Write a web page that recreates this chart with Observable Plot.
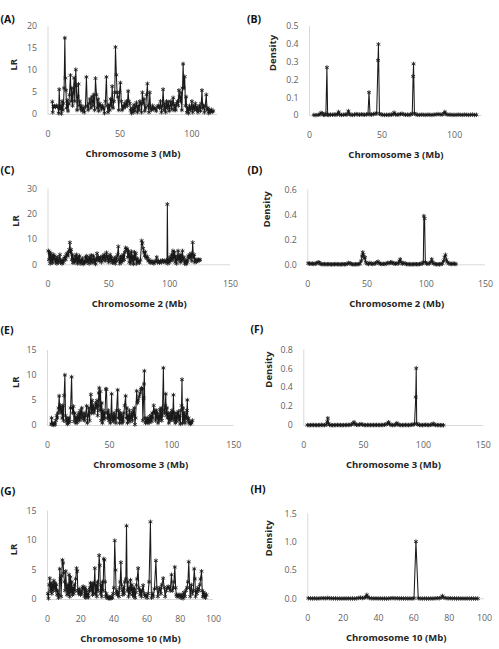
<!DOCTYPE html>
<html>
<head>
<meta charset="utf-8">
<script src="https://cdn.jsdelivr.net/npm/d3@7"></script>
<script src="https://cdn.jsdelivr.net/npm/@observablehq/plot@0.6"></script>
<style>
  body { margin: 0; background: #fff; }
  #fig { position: relative; width: 499px; height: 649px; overflow: hidden; background: #fff; }
  #fig > svg, #fig > figure { position: absolute; margin: 0; }
</style>
</head>
<body>
<div id="fig"></div>
<script>
// Each series: [position (Mb), value]

// (A) likelihood ratio along chromosome 3
const lrChr3A = [
[3,2.9],[3.3,0.5],[3.8,1.8],[4.5,1.9],[5.2,1.7],[6,2],[6.8,1.8],[7.4,0.3],[7.8,5.7],[8.3,1.2],[8.8,2],[9.3,0.2],[9.8,3],[10.3,1],[10.8,2.5],[11.2,6],[11.7,17.4],[12.1,8.3],[12.5,5.5],[12.9,1.5],[13.4,3.2],[13.9,0.8],[14.4,2.4],[14.9,4.5],[15.6,8.9],[16.1,3],[16.6,6],[17.1,2],[17.6,5],[18.2,8.3],[18.6,3],[19.3,10.2],[19.7,6.5],[20.2,1],[20.7,4],[21.2,6.9],[21.6,2],[22.1,3],[22.6,1.2],[23.2,2],[23.8,0.8],[24.5,1.5],[25.2,0.5],[26,1.8],[26.7,8.5],[27.3,2],[27.9,1],[28.5,2.5],[29.2,3.5],[29.8,1.5],[30.5,4],[31.2,2],[31.8,4.5],[32.4,1],[33,8.2],[33.7,4.5],[34.2,1.5],[34.8,3.5],[35.3,0.8],[35.9,2.5],[36.5,2],[37.2,1.2],[37.8,2],[38.5,1.5],[39.2,0.3],[39.9,3],[40.6,8.5],[41.1,2],[41.7,0.5],[42.3,2.2],[42.9,1],[43.5,3.5],[44.1,2],[44.6,6.4],[45.2,1.5],[45.8,3],[46.4,5],[46.9,15.3],[47.5,9],[48,5],[48.6,4],[49.2,1],[49.7,5],[50.3,7.2],[50.9,3],[51.5,1],[52.1,2],[52.7,1.5],[53.3,2.5],[53.9,1.8],[54.5,3],[55.1,2],[55.7,5.3],[56.2,3],[56.8,2.5],[57.4,1],[58,0.3],[58.6,1.5],[59.2,0.5],[59.8,2.2],[60.4,0.8],[61,1.8],[61.5,2.7],[62.1,0.5],[62.7,2],[63.3,1],[63.9,3],[64.5,2.5],[65,0.5],[65.6,5],[66.2,2.5],[66.7,3.5],[67.3,0.8],[67.9,1.5],[68.5,4.5],[69.1,7],[69.6,2],[70.2,0.5],[70.7,5],[71.3,1.5],[72,1],[72.7,2],[73.5,1.2],[74.3,1.5],[75.2,0.8],[76,1.8],[76.8,2],[77.5,1.5],[78.2,3],[78.8,0.5],[79.4,2],[80,5.7],[80.6,1],[81.2,2.5],[81.8,0.5],[82.4,3],[83,1.5],[83.6,2.8],[84.2,0.8],[84.8,2],[85.4,3],[86,1.2],[86.5,2.5],[87,3.8],[87.6,1],[88.2,2.2],[88.8,1],[89.4,2.5],[90,3],[90.5,2],[91,5.5],[91.5,4],[92,3],[92.5,5],[93,1],[93.5,6],[93.9,11.5],[94.4,6],[95,8.6],[95.5,2],[96,4],[96.5,0.5],[97.1,1.5],[97.7,0.3],[98.3,2],[98.9,1],[99.5,1.5],[100,3],[100.6,0.5],[101.2,2],[101.8,1.2],[102.4,2.5],[103,1],[103.6,1.8],[104.2,0.5],[104.8,1.2],[105.4,2],[106,0.8],[106.5,2.5],[107,5.5],[107.5,1.5],[108.1,2],[108.7,0.5],[109.3,2],[110,4.5],[110.5,1],[111.1,1.5],[111.7,0.3],[112.3,1],[112.9,0.6],[113.5,1.1],[114.1,0.6],[114.8,0.8]
];

// (B) posterior density along chromosome 3
const densChr3B = [
[3,0.003],[4.5,0.002],[6,0.004],[7.2,0.006],[8,0.015],[8.8,0.012],[9.6,0.004],[10.5,0.003],[11.3,0.01],[12,0.27],[12.5,0.004],[13.3,0.003],[14.5,0.005],[15.8,0.004],[17,0.006],[18.2,0.004],[19.3,0.008],[20.1,0.02],[20.8,0.005],[22,0.003],[23.3,0.004],[24.6,0.006],[25.8,0.005],[26.8,0.025],[27.5,0.008],[28.6,0.004],[29.8,0.003],[31,0.005],[32.2,0.008],[33.3,0.006],[34.5,0.004],[35.7,0.007],[36.9,0.005],[38,0.004],[39.2,0.006],[40.3,0.008],[41,0.13],[41.7,0.006],[42.8,0.005],[44,0.008],[45.2,0.01],[46.3,0.012],[47.2,0.31],[47.5,0.4],[48.2,0.01],[49.3,0.006],[50.5,0.004],[51.8,0.003],[53,0.004],[54.2,0.003],[55.4,0.005],[56.6,0.004],[57.7,0.008],[58.3,0.016],[59.2,0.006],[60.4,0.004],[61.6,0.006],[62.8,0.008],[63.8,0.01],[65,0.006],[66.2,0.004],[67.4,0.005],[68.6,0.003],[69.8,0.006],[70.8,0.01],[71.4,0.22],[71.7,0.29],[72.3,0.012],[73.4,0.006],[74.6,0.004],[76,0.003],[77.4,0.005],[78.8,0.004],[80.2,0.003],[81.6,0.005],[83,0.004],[84.4,0.003],[85.8,0.005],[87.2,0.006],[88.6,0.008],[90,0.006],[91.4,0.005],[92.6,0.012],[93.3,0.02],[94,0.008],[95.4,0.004],[96.8,0.005],[98.2,0.003],[99.6,0.004],[101,0.003],[102.4,0.005],[103.8,0.004],[105.2,0.003],[106.6,0.005],[108,0.004],[109.4,0.003],[110.8,0.004],[112.2,0.005],[113.6,0.003],[115,0.004]
];

// (C) likelihood ratio along chromosome 2
const lrChr2C = [
[0.3,5.5],[0.8,2],[1.3,5],[1.8,0.5],[2.3,4.5],[2.8,1.5],[3.3,3.5],[3.8,0.8],[4.4,4],[5,2],[5.6,3.5],[6.2,1],[6.8,2.5],[7.4,0.5],[8,3],[8.6,1.2],[9.2,2],[9.8,4],[10.4,0.8],[11,1.5],[11.6,0.5],[12.2,2],[12.8,1],[13.4,2.5],[14,3.2],[14.6,2],[15.2,4],[15.8,4.5],[16.4,3.5],[17,5],[17.5,6],[18,8.8],[18.5,5],[19,6],[19.5,2],[20,4],[20.5,0.8],[21.1,2.5],[21.7,1],[22.3,3.5],[22.9,1.5],[23.5,4],[24.1,0.5],[24.7,3],[25.3,1.2],[25.9,3.5],[26.5,0.5],[27.1,2],[27.7,1],[28.3,2.5],[28.9,0.3],[29.5,1.5],[30.1,0.8],[30.7,3],[31.3,1],[31.9,3.5],[32.5,1.5],[33.1,2.5],[33.7,0.5],[34.3,3],[34.9,1.5],[35.5,3.8],[36.1,0.8],[36.7,2],[37.3,3.5],[37.9,1],[38.5,2.5],[39.1,0.3],[39.7,2],[40.3,4.5],[40.9,2],[41.5,3],[42.1,1.5],[42.7,2.5],[43.3,3],[43.9,1],[44.5,2],[45.1,3.5],[45.7,2.5],[46.3,4],[46.9,1.5],[47.5,3],[48.1,4.8],[48.7,2],[49.3,3.5],[49.9,1],[50.5,2.5],[51.1,4],[51.7,1.5],[52.3,3],[52.9,0.8],[53.5,2],[54.1,1],[54.7,2.5],[55.3,0.5],[55.9,3],[56.5,1.5],[57.1,4],[57.8,7.2],[58.4,2],[59,0.5],[59.6,3],[60.2,1],[60.8,3.5],[61.4,1.5],[62,4],[62.6,2],[63.2,5],[63.8,6.7],[64.4,6],[65,6.3],[65.6,3],[66.2,5.5],[66.8,1],[67.4,4.5],[68,0.5],[68.6,5.2],[69.2,1.5],[69.8,3.5],[70.4,0.3],[71,5],[71.6,2],[72.2,4.5],[72.8,0.5],[73.4,2.5],[74,1],[74.6,1.5],[75.2,0.8],[76,2],[77,9.5],[77.6,8.5],[78.2,6.5],[78.8,5],[79.4,3.5],[80,5],[80.6,3],[81.2,2.5],[81.8,3.2],[82.4,1.5],[83,2],[83.8,1],[84.6,0.8],[85.4,1.5],[86.2,1],[87,0.5],[87.8,1.2],[88.6,1.5],[89.4,3],[90,1],[90.8,1.5],[91.6,0.8],[92.4,1.5],[93.2,1],[94,1.8],[94.8,1.2],[95.6,1.5],[96.4,1],[97.2,1.8],[97.8,1.2],[98.1,23.9],[98.5,0.5],[99.1,2],[99.7,1],[100.3,3],[100.9,1.5],[101.5,4],[102.1,2],[102.7,5.5],[103.3,2.5],[103.9,5],[104.5,1],[105.1,3.5],[105.7,0.5],[106.3,2.5],[106.9,5.5],[107.5,2],[108.1,3.5],[108.7,1],[109.3,4],[109.9,1.5],[110.5,5.5],[111.1,2],[111.7,3],[112.3,0.5],[112.9,1.5],[113.5,0.3],[114.1,2],[114.7,1],[115.3,3.5],[115.9,2.5],[116.5,4],[117.1,3],[117.7,4.5],[118.3,1.5],[118.9,8.8],[119.5,3],[120.1,4],[120.7,1],[121.3,2],[121.9,1.2],[122.5,2],[123.1,1.5],[123.7,2],[124.3,1.8],[125,2]
];

// (D) posterior density along chromosome 2
const densChr2D = [
[0.3,0.012],[1.5,0.01],[2.7,0.008],[3.9,0.01],[5.1,0.006],[6.3,0.01],[7.5,0.012],[8.7,0.02],[9.6,0.018],[10.5,0.008],[11.7,0.006],[12.9,0.004],[14.1,0.006],[15.3,0.004],[16.5,0.005],[17.7,0.006],[18.9,0.004],[20.1,0.003],[21.3,0.005],[22.5,0.004],[23.7,0.006],[24.9,0.004],[26.1,0.005],[27.3,0.003],[28.5,0.004],[29.7,0.006],[30.9,0.004],[32.1,0.005],[33.3,0.008],[34.5,0.015],[35.6,0.012],[36.7,0.006],[37.9,0.004],[39.1,0.003],[40.3,0.005],[41.5,0.004],[42.7,0.006],[43.9,0.008],[45,0.03],[45.8,0.07],[46.4,0.1],[47,0.08],[47.6,0.05],[48.3,0.06],[49,0.02],[50,0.01],[51.2,0.006],[52.4,0.015],[53.6,0.008],[54.8,0.006],[56,0.01],[57.2,0.012],[58.4,0.02],[59.3,0.025],[60.2,0.012],[61.4,0.008],[62.6,0.006],[63.8,0.008],[65,0.006],[66.2,0.01],[67.4,0.015],[68.6,0.012],[69.8,0.02],[70.8,0.018],[71.8,0.015],[72.8,0.01],[74,0.008],[75.2,0.012],[76.4,0.01],[77.4,0.03],[78,0.045],[78.7,0.02],[79.8,0.008],[81,0.015],[82.2,0.01],[83.4,0.006],[84.6,0.004],[85.8,0.006],[87,0.003],[88.2,0.005],[89.4,0.004],[90.6,0.006],[91.8,0.005],[93,0.004],[94.2,0.006],[95.4,0.008],[96.6,0.01],[97.5,0.02],[98,0.39],[98.6,0.37],[99.2,0.02],[100.2,0.01],[101.4,0.008],[102.6,0.012],[103.8,0.02],[104.6,0.045],[105.4,0.02],[106.4,0.01],[107.6,0.006],[108.8,0.004],[110,0.005],[111.2,0.004],[112.4,0.006],[113.6,0.01],[114.6,0.03],[115.4,0.06],[116.2,0.08],[117,0.04],[117.8,0.02],[119,0.012],[120.2,0.008],[121.4,0.006],[122.6,0.01],[123.8,0.008],[125,0.006]
];

// (E) likelihood ratio along chromosome 3
const lrChr3E = [
[3,0.3],[3.3,1.5],[3.8,0.2],[4.4,0.5],[5,0.1],[5.6,0.4],[6.2,0.2],[6.8,1],[7.4,2],[7.9,1.5],[8.4,2.5],[8.9,3.5],[9.4,5.9],[9.9,3],[10.4,4],[10.9,2.5],[11.4,3.5],[11.9,1.5],[12.4,4],[12.9,1],[13.4,6],[14,10.1],[14.5,2],[15,0.8],[15.5,1.5],[16,0.3],[16.5,1.2],[17,0.5],[17.5,1.5],[18,0.8],[18.6,3.5],[19.4,9.7],[19.9,3.5],[20.4,2.5],[20.9,3.8],[21.4,0.8],[21.9,2.5],[22.4,1.5],[22.9,0.5],[23.4,1.5],[23.9,0.6],[24.4,2],[24.9,1.2],[25.4,2.5],[25.9,1],[26.4,3],[27,1.5],[27.6,3.5],[28.2,2],[28.8,1.2],[29.4,2.5],[30,1],[30.6,2],[31.5,3.9],[32.1,0.5],[32.7,2],[33.3,3.5],[33.9,1],[34.9,6.2],[35.4,2.5],[35.9,5],[36.4,3],[36.9,4],[37.4,2.5],[37.9,3],[38.4,3.5],[38.9,4.5],[39.4,3.8],[39.9,5],[40.4,2],[40.9,4],[41.3,6.5],[41.7,7.5],[42.2,3],[42.7,6.8],[43.2,1],[43.7,4.5],[44.2,0.5],[44.7,3],[45.2,1.2],[45.7,2.5],[46.2,1.5],[47,7.3],[47.5,7.2],[48,2.5],[48.5,1.5],[49,3],[49.5,1],[50,2.2],[50.5,0.5],[51,1.5],[51.6,6.3],[52.1,1],[52.6,2],[53.1,0.8],[53.6,2.5],[54.1,1.2],[54.6,2],[55.1,0.5],[55.6,3],[56.5,7.1],[57,1.5],[57.5,3],[58,0.5],[58.5,2.5],[59,1],[59.5,2.2],[60,0.5],[60.5,1.8],[61,0.8],[61.5,2.5],[62.1,4],[62.9,5.9],[63.4,1.5],[63.9,3.5],[64.4,0.5],[64.9,2],[65.4,1],[65.9,3],[66.4,0.8],[66.9,2],[67.4,1.5],[67.9,2.5],[68.4,1],[68.9,3],[69.4,2],[69.9,3.5],[70.4,0.2],[70.9,1.5],[71.8,6.9],[72.4,4.5],[73,5],[73.8,5.8],[74.6,6.5],[75.3,7.2],[75.8,7.5],[76.3,7.3],[76.8,1],[77.4,5.5],[77.7,8.3],[78,10.9],[78.4,1.5],[78.9,0.5],[79.4,1],[79.9,0.8],[80.4,1.5],[80.9,0.5],[81.4,1.2],[81.9,0.6],[82.4,1.8],[82.9,1],[83.4,2],[83.9,0.8],[84.4,2.5],[84.9,1.5],[85.5,4],[86,2.5],[86.5,3],[87,1],[87.5,3],[88,1.5],[88.5,2.5],[89,0.5],[89.5,2],[90,1],[90.5,3.2],[91,1.5],[91.5,3.5],[92,1],[92.5,2],[93.3,11.5],[93.8,3],[94.3,2.5],[94.8,4],[95.2,6.3],[95.7,2],[96.2,3.5],[96.7,1.5],[97.2,2.5],[97.7,0.5],[98.2,2],[98.7,1],[99.2,2.5],[99.7,1.2],[100.2,3],[100.8,1.5],[101.4,6.1],[101.9,1],[102.4,2.5],[102.9,0.5],[103.4,2],[103.9,0.8],[104.4,2.5],[104.9,1.5],[105.4,2.8],[105.9,1],[106.4,2],[106.9,0.3],[107.4,3],[107.9,4],[108.3,9.2],[108.7,0.5],[109.2,3.5],[109.7,1],[110.2,2.5],[110.7,0.5],[111.2,2],[111.7,1.5],[112.2,3],[112.6,5.1],[113,1],[113.5,1.5],[114,0.5],[114.5,0.8],[115,0.3],[115.5,0.7],[116,0.5],[116.7,1]
];

// (F) posterior density along chromosome 3
const densChr3F = [
[3,0.005],[4.3,0.003],[5.6,0.004],[6.9,0.006],[8.2,0.004],[9.5,0.005],[10.8,0.003],[12.1,0.005],[13.4,0.004],[14.7,0.006],[16,0.005],[17.3,0.004],[18.6,0.008],[19.6,0.04],[20.1,0.077],[20.6,0.02],[21.6,0.006],[22.9,0.004],[24.2,0.003],[25.5,0.005],[26.8,0.004],[28.1,0.006],[29.4,0.004],[30.7,0.005],[32,0.003],[33.3,0.005],[34.6,0.004],[35.9,0.006],[37.2,0.005],[38.5,0.007],[39.8,0.01],[41,0.02],[42,0.035],[42.8,0.015],[44,0.008],[45.3,0.006],[46.6,0.01],[47.9,0.015],[49.2,0.008],[50.5,0.005],[51.8,0.004],[53.1,0.006],[54.4,0.005],[55.7,0.004],[57,0.006],[58.3,0.005],[59.6,0.004],[60.9,0.006],[62.2,0.005],[63.5,0.004],[64.8,0.006],[66.1,0.005],[67.4,0.008],[68.7,0.012],[70,0.02],[70.9,0.035],[71.8,0.015],[73,0.006],[74.3,0.004],[75.6,0.005],[76.8,0.01],[77.8,0.025],[78.6,0.012],[79.8,0.006],[81.1,0.004],[82.4,0.005],[83.7,0.004],[85,0.006],[86.3,0.005],[87.6,0.004],[88.9,0.006],[90.2,0.008],[91.4,0.01],[92.6,0.015],[93.6,0.3],[94,0.605],[94.4,0.02],[95.4,0.01],[96.7,0.006],[98,0.005],[99.3,0.004],[100.6,0.006],[101.9,0.008],[103.2,0.005],[104.5,0.004],[105.8,0.006],[107.1,0.01],[108.2,0.02],[109,0.01],[110.3,0.005],[111.6,0.004],[112.9,0.005],[114.2,0.003],[115.5,0.004],[116.8,0.003]
];

// (G) likelihood ratio along chromosome 10
const lrChr10G = [
[0.2,1],[0.6,0.2],[1,2.5],[1.4,3.6],[1.8,1.5],[2.2,2.8],[2.6,1],[3,2.5],[3.4,1.5],[3.8,3.2],[4.2,2],[4.6,2.8],[5,1.5],[5.4,2.5],[5.8,0.8],[6.2,1.5],[6.6,0.3],[7,0.8],[7.4,5.2],[7.8,3.5],[8.2,0.5],[8.6,4],[9,6.7],[9.4,6.2],[9.8,4.5],[10.2,3],[10.6,1.5],[11,4.8],[11.4,2],[11.8,0.8],[12.2,2.5],[12.6,1],[13,4.2],[13.4,0.5],[13.8,3.8],[14.2,1.2],[14.6,3],[15,0.8],[15.4,2],[15.8,1],[16.2,2.5],[16.6,1.5],[17,3.5],[17.5,5.3],[17.9,4.8],[18.3,1.5],[18.7,1],[19.1,1.8],[19.5,1.2],[19.9,0.8],[20.3,1.5],[20.7,1],[21.1,2],[21.5,2.2],[21.9,1.8],[22.3,0.5],[22.7,2],[23.1,0.3],[23.5,1.5],[23.9,0.5],[24.3,1],[24.7,0.4],[25.1,1.5],[25.5,2],[25.9,2.8],[26.3,1.5],[26.7,2.5],[27.1,0.8],[27.5,2.8],[27.9,1],[28.5,5.3],[28.9,1],[29.3,2.5],[29.7,0.5],[30.1,3],[30.5,1.5],[31.1,7.5],[31.5,5.8],[31.9,1],[32.3,2.5],[32.7,0.5],[33.1,3],[33.5,1.5],[33.9,6.9],[34.3,6.7],[34.7,3],[35.1,0.5],[35.5,1],[35.9,0.3],[36.3,0.5],[36.7,0.2],[37.1,0.4],[37.5,0.2],[37.9,0.3],[38.3,0.2],[38.7,0.5],[39.1,0.3],[39.5,1],[40,2],[40.5,10],[41,5],[41.4,1],[41.8,1.5],[42.2,0.8],[42.6,1.2],[43,0.5],[43.4,2],[43.8,3],[44.2,6.3],[44.6,2.5],[45,1.5],[45.4,0.8],[45.8,2],[46.2,1],[46.6,3],[47.2,3.5],[47.6,12.5],[48,1.5],[48.4,3],[48.8,0.5],[49.2,2],[49.6,1],[50,3.3],[50.4,1.5],[50.8,2.5],[51.2,0.8],[51.6,2],[52,0.5],[52.4,1.8],[52.8,0.3],[53.2,1.2],[53.6,2.5],[54,3.5],[54.6,5.3],[55,2],[55.4,1.5],[55.8,0.8],[56.2,1.5],[56.6,0.5],[57,1.5],[57.6,2.4],[58.2,1],[58.8,0.5],[59.4,0.8],[60,0.3],[60.6,1],[61.2,3],[62,13.2],[62.6,0.3],[63.2,1],[63.8,0.5],[64.4,1.8],[65.3,6.6],[65.9,2],[66.5,0.5],[67.1,1.5],[67.7,2],[68.3,1],[68.9,2.5],[69.7,3.6],[70.3,2],[70.9,0.5],[71.5,1.5],[72.1,2],[72.7,2.2],[73.3,2],[73.9,1.5],[74.7,4.2],[75.2,1.5],[75.8,2],[76.2,3],[76.7,5.5],[77.2,2],[77.6,0.8],[78,0.5],[78.6,0.8],[79.2,0.5],[79.8,0.8],[80.4,0.3],[81,0.8],[81.6,0.2],[82.2,1.2],[82.8,0.5],[83.4,1.5],[84,2],[84.6,3],[85.1,6.4],[85.6,2],[86,0.5],[86.6,2.5],[87.2,1],[87.8,1.5],[88.4,5.2],[88.8,3.5],[89.2,0.5],[89.6,1.5],[90,1],[90.6,2],[91.2,1.5],[91.8,2.5],[92.2,3.5],[92.8,4.8],[93.2,1.5],[93.6,0.5],[94,1.2],[94.4,0.5],[94.8,1],[95.2,0.3],[95.8,0.8]
];

// (H) posterior density along chromosome 10
const densChr10H = [
[0.3,0.01],[1.5,0.008],[2.7,0.006],[3.9,0.008],[5.1,0.005],[6.3,0.007],[7.5,0.01],[8.7,0.012],[9.9,0.008],[11,0.015],[12.1,0.01],[13.3,0.008],[14.5,0.006],[15.7,0.008],[16.9,0.005],[18.1,0.006],[19.3,0.004],[20.5,0.006],[21.7,0.005],[22.9,0.007],[24.1,0.005],[25.3,0.006],[26.5,0.004],[27.7,0.008],[28.9,0.015],[29.9,0.02],[30.9,0.012],[31.9,0.02],[32.8,0.03],[33.4,0.07],[34,0.03],[35,0.012],[36.2,0.008],[37.4,0.006],[38.6,0.008],[39.8,0.005],[41,0.007],[42.2,0.005],[43.4,0.006],[44.6,0.004],[45.8,0.006],[47,0.01],[48.2,0.012],[49.4,0.008],[50.6,0.01],[51.8,0.006],[53,0.008],[54.2,0.005],[55.4,0.007],[56.6,0.005],[57.8,0.006],[59,0.004],[60.1,0.01],[61.2,1.01],[62.5,0.01],[63.6,0.005],[64.8,0.004],[66,0.006],[67.2,0.005],[68.4,0.004],[69.6,0.006],[70.8,0.005],[72,0.008],[73.2,0.012],[74.4,0.01],[75.4,0.02],[76.2,0.05],[77,0.02],[78.2,0.012],[79.4,0.008],[80.6,0.01],[81.8,0.006],[83,0.008],[84.2,0.005],[85.4,0.007],[86.6,0.005],[87.8,0.006],[89,0.004],[90.2,0.006],[91.4,0.005],[92.6,0.006],[93.8,0.004],[95,0.005],[96.2,0.004]
];

// Axis ticks and their labels
const xTicks50 = [0, 50, 100];
const xTicks50to150 = [0, 50, 100, 150];
const xTicks20 = [0, 20, 40, 60, 80, 100];
const yTicksA = [0, 5, 10, 15, 20];
const yLabelsA = ["0", "5", "10", "15", "20"];
const yTicksB = [0, 0.1, 0.2, 0.3, 0.4, 0.5];
const yLabelsB = ["0", "0.1", "0.2", "0.3", "0.4", "0.5"];
const yTicksC = [0, 10, 20, 30];
const yLabelsC = ["0", "10", "20", "30"];
const yTicksD = [0, 0.2, 0.4, 0.6];
const yLabelsD = ["0.0", "0.2", "0.4", "0.6"];
const yTicksE = [0, 5, 10, 15];
const yLabelsE = ["0", "5", "10", "15"];
const yTicksF = [0, 0.2, 0.4, 0.6, 0.8];
const yLabelsF = ["0", "0.2", "0.4", "0.6", "0.8"];
const yTicksG = [0, 5, 10, 15];
const yLabelsG = ["0", "5", "10", "15"];
const yTicksH = [0, 0.5, 1.0, 1.5];
const yLabelsH = ["0.0", "0.5", "1.0", "1.5"];

// Panel layout: svg box on the page and plot frame inside it [left, right, top, bottom]
const panels = [
  {tag: "(A)", data: lrChr3A, xTitle: "Chromosome 3 (Mb)", yTitle: "LR",
   left: 0, top: 0, w: 250, h: 165, frame: [47.5, 217.3, 26, 114],
   xDomain: [0, 118], xTicks: xTicks50, yDomain: [0, 20], yTicks: yTicksA, yLabels: yLabelsA,
   yTitleDx: -34.5, tagPos: [0, 15]},
  {tag: "(B)", data: densChr3B, xTitle: "Chromosome 3 (Mb)", yTitle: "Density",
   left: 244, top: 0, w: 255, h: 165, frame: [65, 237.7, 26, 115],
   xDomain: [0, 119], xTicks: xTicks50, yDomain: [0, 0.5], yTicks: yTicksB, yLabels: yLabelsB,
   yTitleDx: -36.3, tagPos: [2.5, 15]},
  {tag: "(C)", data: lrChr2C, xTitle: "Chromosome 2 (Mb)", yTitle: "LR",
   left: 0, top: 160, w: 250, h: 160, frame: [47.5, 230, 28.3, 104.3],
   xDomain: [0, 150], xTicks: xTicks50to150, yDomain: [0, 30], yTicks: yTicksC, yLabels: yLabelsC,
   yTitleDx: -32.5, tagPos: [0, 6]},
  {tag: "(D)", data: densChr2D, xTitle: "Chromosome 2 (Mb)", yTitle: "Density",
   left: 244, top: 160, w: 255, h: 160, frame: [63.3, 241, 29.3, 104.3],
   xDomain: [0, 150], xTicks: xTicks50to150, yDomain: [0, 0.6], yTicks: yTicksD, yLabels: yLabelsD,
   yTitleDx: -40.6, tagPos: [3, 6]},
  {tag: "(E)", data: lrChr3E, xTitle: "Chromosome 3 (Mb)", yTitle: "LR",
   left: 0, top: 320, w: 250, h: 160, frame: [47, 233.3, 30, 105],
   xDomain: [0, 150], xTicks: xTicks50to150, yDomain: [0, 15], yTicks: yTicksE, yLabels: yLabelsE,
   yTitleDx: -32, tagPos: [0, 6]},
  {tag: "(F)", data: densChr3F, xTitle: "Chromosome 3 (Mb)", yTitle: "Density",
   left: 244, top: 320, w: 255, h: 160, frame: [59.3, 238.7, 29.3, 105],
   xDomain: [0, 150], xTicks: xTicks50to150, yDomain: [0, 0.8], yTicks: yTicksF, yLabels: yLabelsF,
   yTitleDx: -35, tagPos: [6, 5]},
  {tag: "(G)", data: lrChr10G, xTitle: "Chromosome 10 (Mb)", yTitle: "LR",
   left: 0, top: 480, w: 250, h: 169, frame: [47, 213, 30.7, 119],
   xDomain: [0, 100], xTicks: xTicks20, yDomain: [0, 15], yTicks: yTicksG, yLabels: yLabelsG,
   yTitleDx: -33.7, tagPos: [0, 6.7]},
  {tag: "(H)", data: densChr10H, xTitle: "Chromosome 10 (Mb)", yTitle: "Density",
   left: 244, top: 480, w: 255, h: 169, frame: [63.3, 240, 33.3, 118.3],
   xDomain: [0, 100], xTicks: xTicks20, yDomain: [0, 1.5], yTicks: yTicksH, yLabels: yLabelsH,
   yTitleDx: -39, tagPos: [6, 5]}
];

const font = "'Open Sans', 'Noto Sans', sans-serif";
const ink = "#1a1a1a";
const axisGray = "#d9d9d9";
const titleColor = "#262626";

function drawPanel(p) {
  const [fx0, fx1, fy0, fy1] = p.frame;
  const px = d => d[0];
  const py = d => d[1];
  const svg = Plot.plot({
    width: p.w,
    height: p.h,
    marginLeft: fx0,
    marginRight: p.w - fx1,
    marginTop: fy0,
    marginBottom: p.h - fy1,
    x: {domain: p.xDomain},
    y: {domain: p.yDomain},
    style: {background: "transparent", overflow: "visible", fontFamily: font, fontSize: "8.8px", color: "#5f5f5f"},
    marks: [
      Plot.ruleY([0], {stroke: axisGray, strokeWidth: 1}),
      Plot.ruleX([0], {stroke: axisGray, strokeWidth: 1}),
      Plot.axisX(p.xTicks, {tickSize: 0, tickPadding: 16, label: null}),
      Plot.axisY(p.yTicks, {tickSize: 0, tickPadding: 11, label: null,
        tickFormat: d => p.yLabels[p.yTicks.indexOf(d)]}),
      Plot.line(p.data, {x: px, y: py, stroke: ink, strokeWidth: 1.05}),
      Plot.dot(p.data, {x: px, y: py, symbol: "asterisk", r: 2.1, stroke: ink, strokeWidth: 0.85}),
      Plot.text([p.xTitle], {text: d => d, frameAnchor: "bottom", dy: 42,
        fontWeight: "bold", fontSize: 9.5, fill: titleColor}),
      Plot.text([p.yTitle], {text: d => d, frameAnchor: "left", dx: p.yTitleDx, rotate: -90,
        fontWeight: "bold", fontSize: 9.5, fill: titleColor}),
      Plot.text([p.tag], {text: d => d, frameAnchor: "top-left", textAnchor: "start",
        dx: p.tagPos[0] - fx0, dy: p.tagPos[1] - fy0,
        fontWeight: "bold", fontSize: 10.5, fill: "#111"})
    ]
  });
  svg.style.left = p.left + "px";
  svg.style.top = p.top + "px";
  return svg;
}

const fig = document.getElementById("fig");
for (const p of panels) fig.appendChild(drawPanel(p));
</script>
</body>
</html>
